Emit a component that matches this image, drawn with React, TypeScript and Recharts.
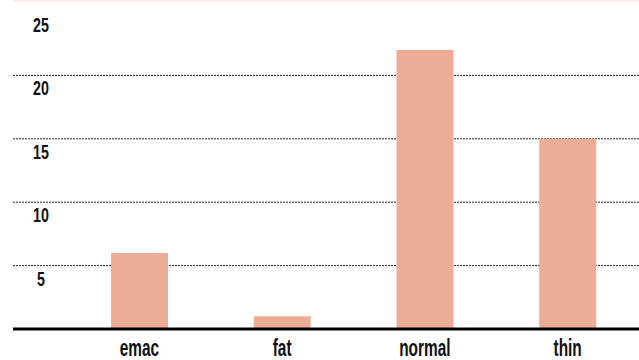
import { Bar, BarChart, CartesianGrid, XAxis, YAxis } from "recharts";

const categories = ["emac", "fat", "normal", "thin"];
const counts = [6, 1, 22, 15];
const yTicks = [5, 10, 15, 20, 25];
const gridValues = [5, 10, 15, 20];

const data = categories.map((name, i) => ({ name, count: counts[i] }));

const FONT = "'Liberation Sans', Arial, sans-serif";

function XTick(props: any) {
  const { x, payload } = props;
  return (
    <g transform={`translate(${x},356) scale(0.67,1)`}>
      <text textAnchor="middle" fontFamily={FONT} fontWeight="bold" fontSize={23} fill="#111">
        {payload.value}
      </text>
    </g>
  );
}

function YTick(props: any) {
  const { y, payload } = props;
  return (
    <g transform={`translate(41,${y + 20}) scale(0.68,1)`}>
      <text textAnchor="middle" fontFamily={FONT} fontWeight="bold" fontSize={21} fill="#111">
        {payload.value}
      </text>
    </g>
  );
}

export default function App() {
  return (
    <div style={{ position: "absolute", left: 0, top: 0, width: 639, height: 360, background: "#fff" }}>
      <div style={{ position: "absolute", left: 13, top: 0, width: 626, height: 2, background: "#fdece6" }} />
      <BarChart width={639} height={360} data={data} margin={{ top: 12, right: 0, bottom: 1, left: 12 }}>
        <CartesianGrid vertical={false} horizontalValues={gridValues} stroke="#222" strokeDasharray="2 1" />
        <XAxis
          dataKey="name"
          padding={{ left: 55, right: 0 }}
          axisLine={{ stroke: "#000", strokeWidth: 3 }}
          tickLine={false}
          height={30}
          tick={<XTick />}
          interval={0}
        />
        <YAxis
          width={1}
          domain={[0, 25]}
          ticks={yTicks}
          axisLine={false}
          tickLine={false}
          tick={<YTick />}
          interval={0}
        />
        <Bar dataKey="count" fill="#ecac96" barSize={57} isAnimationActive={false} />
      </BarChart>
    </div>
  );
}
